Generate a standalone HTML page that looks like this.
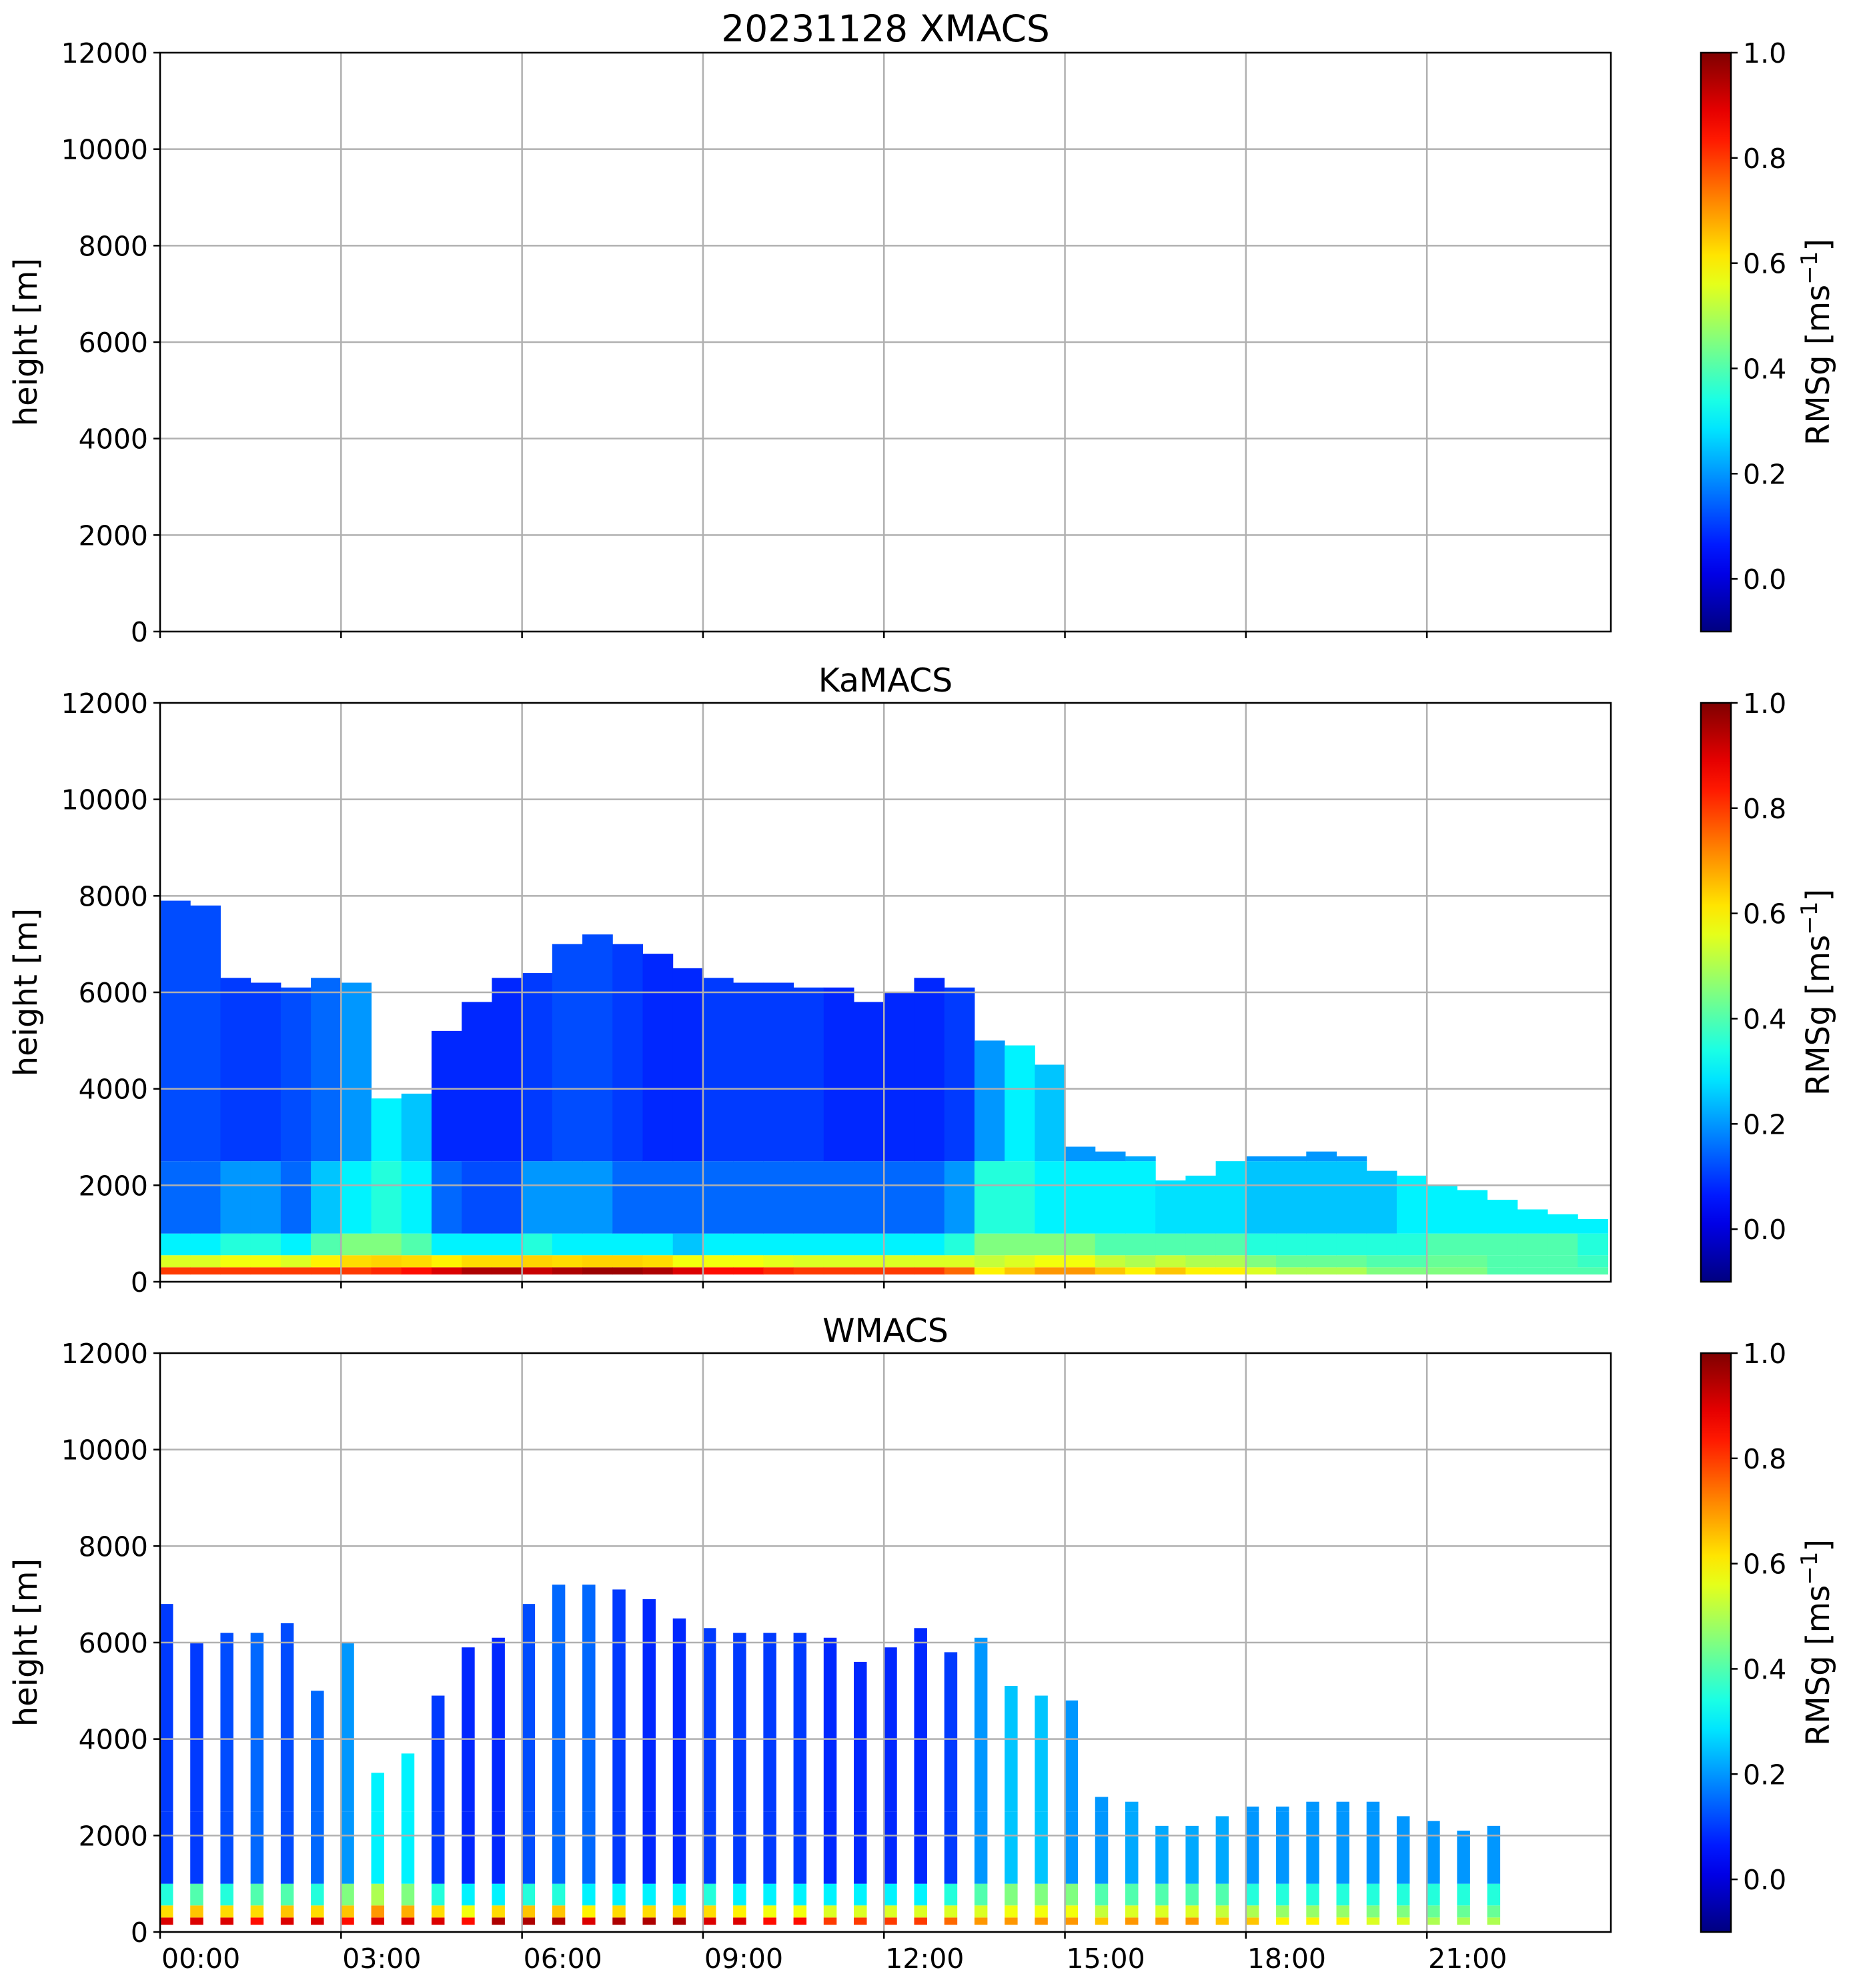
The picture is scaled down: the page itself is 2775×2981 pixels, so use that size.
<!DOCTYPE html>
<html><head><meta charset="utf-8"><style>
html,body{margin:0;padding:0;background:#fff;}
svg{display:block;font-family:"DejaVu Sans","Liberation Sans",sans-serif;}
</style></head><body>
<svg id="fig" width="2775" height="2981" viewBox="0 0 2775 2981" xmlns="http://www.w3.org/2000/svg"></svg>
<script>
// ---- data ----
const kaTimes = [0,0.5,1,1.5,2,2.5,3,3.5,4,4.5,5,5.5,6,6.5,7,7.5,8,8.5,9,9.5,10,10.5,11,11.5,12,12.5,13,13.5,14,14.5,15,15.5,16,16.5,17,17.5,18,18.5,19,19.5,20,20.5,21,21.5,22,22.5,23,23.5];
const kaTop = [7900,7800,6300,6200,6100,6300,6200,3800,3900,5200,5800,6300,6400,7000,7200,7000,6800,6500,6300,6200,6200,6100,6100,5800,6000,6300,6100,5000,4900,4500,2800,2700,2600,2100,2200,2500,2600,2600,2700,2600,2300,2200,2000,1900,1700,1500,1400,1300];
const kaSurf = [0.8,0.8,0.8,0.8,0.8,0.8,0.8,0.82,0.85,0.9,0.95,0.95,0.92,0.95,0.97,0.97,0.95,0.9,0.85,0.85,0.82,0.8,0.8,0.8,0.8,0.8,0.75,0.6,0.65,0.7,0.7,0.65,0.6,0.65,0.6,0.6,0.55,0.5,0.5,0.5,0.45,0.45,0.45,0.45,0.4,0.4,0.4,0.4];
const kaMid = [0.3,0.3,0.35,0.35,0.3,0.4,0.45,0.45,0.4,0.3,0.3,0.3,0.35,0.3,0.3,0.3,0.3,0.25,0.3,0.3,0.3,0.3,0.3,0.3,0.3,0.3,0.35,0.45,0.45,0.45,0.45,0.4,0.4,0.4,0.4,0.4,0.35,0.35,0.35,0.35,0.35,0.35,0.4,0.4,0.4,0.4,0.4,0.35];
const kaLow = [0.15,0.15,0.2,0.2,0.15,0.25,0.3,0.35,0.3,0.15,0.12,0.12,0.2,0.2,0.2,0.15,0.15,0.15,0.15,0.15,0.15,0.15,0.15,0.15,0.15,0.15,0.2,0.35,0.35,0.3,0.3,0.3,0.3,0.28,0.28,0.28,0.25,0.25,0.25,0.25,0.25,0.3,0.3,0.3,0.3,0.3,0.3,0.3];
const kaUp = [0.12,0.12,0.1,0.1,0.12,0.15,0.2,0.3,0.25,0.08,0.08,0.08,0.1,0.12,0.12,0.1,0.08,0.08,0.1,0.1,0.1,0.1,0.08,0.08,0.08,0.08,0.1,0.2,0.3,0.25,0.2,0.2,0.22,0.22,0.22,0.22,0.2,0.2,0.2,0.2,0.18,0.18,0.2,0.2,0.2,0.2,0.2,0.2];
const wTimes = [0,0.5,1,1.5,2,2.5,3,3.5,4,4.5,5,5.5,6,6.5,7,7.5,8,8.5,9,9.5,10,10.5,11,11.5,12,12.5,13,13.5,14,14.5,15,15.5,16,16.5,17,17.5,18,18.5,19,19.5,20,20.5,21,21.5,22];
const wTop = [6800,6000,6200,6200,6400,5000,6000,3300,3700,4900,5900,6100,6800,7200,7200,7100,6900,6500,6300,6200,6200,6200,6100,5600,5900,6300,5800,6100,5100,4900,4800,2800,2700,2200,2200,2400,2600,2600,2700,2700,2700,2400,2300,2100,2200];
const wSurf = [0.9,0.9,0.9,0.85,0.9,0.9,0.85,0.9,0.9,0.9,0.85,0.95,0.95,0.95,0.9,0.95,0.95,0.95,0.9,0.9,0.85,0.85,0.8,0.8,0.8,0.8,0.75,0.7,0.7,0.7,0.7,0.65,0.7,0.7,0.7,0.65,0.65,0.6,0.6,0.6,0.55,0.55,0.5,0.5,0.5];
const wMid = [0.35,0.4,0.35,0.4,0.4,0.35,0.45,0.5,0.45,0.35,0.3,0.3,0.35,0.35,0.3,0.3,0.3,0.3,0.35,0.3,0.3,0.3,0.3,0.3,0.3,0.3,0.35,0.4,0.45,0.45,0.45,0.4,0.4,0.4,0.4,0.4,0.35,0.35,0.35,0.35,0.35,0.35,0.35,0.35,0.35];
const wUp = [0.1,0.1,0.12,0.15,0.12,0.15,0.2,0.3,0.3,0.1,0.08,0.08,0.12,0.15,0.15,0.1,0.08,0.08,0.1,0.1,0.1,0.1,0.08,0.08,0.08,0.08,0.1,0.2,0.25,0.25,0.2,0.2,0.22,0.22,0.22,0.22,0.2,0.2,0.2,0.2,0.2,0.2,0.2,0.2,0.2];
const yTicks = [0,2000,4000,6000,8000,10000,12000];
const xTickHours = [0,3,6,9,12,15,18,21];
const xTickLabels = ["00:00","03:00","06:00","09:00","12:00","15:00","18:00","21:00"];
const cbTicks = [0.0,0.2,0.4,0.6,0.8,1.0];
const titles = ["20231128 XMACS","KaMACS","WMACS"];

// ---- layout ----
const NS="http://www.w3.org/2000/svg";
const svg=document.getElementById('fig');
const L=240,R=2415,PW=R-L,PH=868,TOPS=[79,1054,2029];
const TMAX=24.05,HMAX=12000,VMIN=-0.1,VMAX=1.0;
const CBX=2550,CBW=45;
function xs(t){return L+t*PW/TMAX;}
function ys(p,h){return TOPS[p]+PH*(1-h/HMAX);}
function cy(p,v){return TOPS[p]+PH*(VMAX-v)/(VMAX-VMIN);}
function clip(a){return Math.max(0,Math.min(1,a));}
function jet(v){const n=(v-VMIN)/(VMAX-VMIN);
 const r=clip(1.5-Math.abs(4*n-3)),g=clip(1.5-Math.abs(4*n-2)),b=clip(1.5-Math.abs(4*n-1));
 return `rgb(${Math.round(r*255)},${Math.round(g*255)},${Math.round(b*255)})`;}
function el(tag,attrs,parent){const e=document.createElementNS(NS,tag);for(const k in attrs)e.setAttribute(k,attrs[k]);(parent||svg).appendChild(e);return e;}
function txt(s,attrs,parent){const e=el('text',attrs,parent);e.textContent=s;return e;}

function column(p,g,t0,t1,top,surf,mid,low,up){
  const x0=xs(t0),w=xs(t1)-x0+0.5;
  const layers=[[150,300,surf],[300,550,(surf+mid)/2],[550,1000,mid],[1000,2500,low],[2500,top,up]];
  layers.forEach(([a,b,v])=>{
    const hi=Math.min(b,top); if(hi<=a) return;
    const r=el('rect',{x:x0,y:ys(p,hi),width:w,height:ys(p,a)-ys(p,hi),fill:jet(v)},g);
    
    
  });
}

for(let p=0;p<3;p++){
  const pg=el('g',{});
  
  
  const dg=el('g',{},pg);
  
  
  if(p===1){
    kaTimes.forEach((t,i)=>column(1,dg,t,t+0.5,kaTop[i],kaSurf[i],kaMid[i],kaLow[i],kaUp[i]));
  }
  if(p===2){
    wTimes.forEach((t,i)=>column(2,dg,t,t+0.21,wTop[i],wSurf[i],wMid[i],wUp[i],wUp[i]));
  }
  const gg=el('g',{stroke:'#b0b0b0','stroke-width':2.5},pg);
  
  
  yTicks.forEach(h=>el('line',{x1:L,x2:R,y1:ys(p,h),y2:ys(p,h)},gg));
  xTickHours.forEach(t=>el('line',{x1:xs(t),x2:xs(t),y1:TOPS[p],y2:TOPS[p]+PH},gg));
  const fr=el('rect',{x:L,y:TOPS[p],width:PW,height:PH,fill:'none',stroke:'#000','stroke-width':2.5},pg);
  
  
  yTicks.forEach(h=>{
    el('line',{x1:L-10,x2:L,y1:ys(p,h),y2:ys(p,h),stroke:'#000','stroke-width':2.5},pg);
    const tl=txt(String(h),{x:L-18,y:ys(p,h)+15,'font-size':41,'text-anchor':'end'},pg);
    
    
  });
  xTickHours.forEach((t,i)=>{
    el('line',{x1:xs(t),x2:xs(t),y1:TOPS[p]+PH,y2:TOPS[p]+PH+10,stroke:'#000','stroke-width':2.5},pg);
    if(p===2){
      const tl=txt(xTickLabels[i],{x:xs(t)+2,y:2951,'font-size':41},pg);
      
      
    }
  });
  const yl=txt('height [m]',{x:0,y:0,'font-size':48,'text-anchor':'middle',transform:`translate(55,${TOPS[p]+PH/2}) rotate(-90)`},pg);
  
  
  const tt=txt(titles[p],{x:(L+R)/2,y:TOPS[p]-17,'font-size':p===0?55:49,'text-anchor':'middle'},pg);
  
  
  const cg=el('g',{},pg);
  
  
  const gid='jet'+p;
  const lg=el('linearGradient',{id:gid,x1:0,y1:1,x2:0,y2:0},el('defs',{},cg));
  for(let k=0;k<=20;k++){const v=VMIN+(VMAX-VMIN)*k/20;el('stop',{offset:k/20,'stop-color':jet(v)},lg);}
  el('rect',{x:CBX,y:TOPS[p],width:CBW,height:PH,fill:`url(#${gid})`,stroke:'#000','stroke-width':2.5},cg);
  cbTicks.forEach(v=>{
    el('line',{x1:CBX+CBW,x2:CBX+CBW+10,y1:cy(p,v),y2:cy(p,v),stroke:'#000','stroke-width':2.5},cg);
    const tl=txt(v.toFixed(1),{x:CBX+CBW+18,y:cy(p,v)+15,'font-size':41},cg);
    
    
  });
  const cl=el('text',{x:0,y:0,'font-size':48,'text-anchor':'middle',transform:`translate(2742,${TOPS[p]+PH/2}) rotate(-90)`},cg);
  
  
  cl.innerHTML='RMSg [ms<tspan dy="-18" font-size="34">−1</tspan><tspan dy="18">]</tspan>';
}
</script>
</body></html>
